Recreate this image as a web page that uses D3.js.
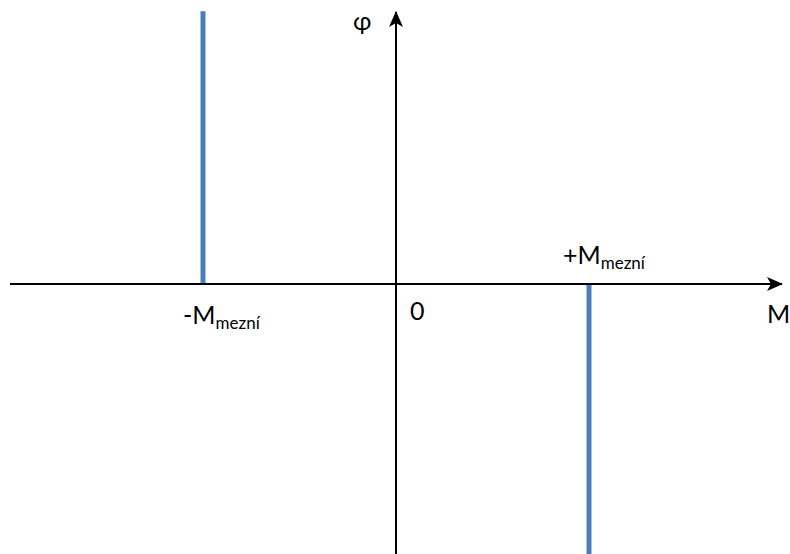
<!DOCTYPE html>
<html>
<head>
<meta charset="utf-8">
<script src="https://cdn.jsdelivr.net/npm/d3@7"></script>
<style>
  html, body { margin: 0; padding: 0; background: #fff; }
  svg { display: block; }
  text { font-family: Lato, "Open Sans", sans-serif; fill: #000; }
</style>
</head>
<body>
<svg id="chart" width="790" height="554"></svg>
<script>
// Moment axis range and the limit moments (±M mezní)
const momentDomain = [-2, 2];
const limitMoments = [-1, 1];
// Rotation range along the φ axis
const phiDomain = [-1, 1];
// Each limit branch: moment and the φ interval it covers
const branchMoment = [-1, 1];
const branchPhiFrom = [0, 0];
const branchPhiTo = [1.01, -1.0];
// Labels
const limitLabelMain = ["-M", "+M"];
const limitLabelSub = ["mezní", "mezní"];
const axisLabelX = "M";
const axisLabelY = "φ";
const originLabel = "0";

const W = 790, H = 554;
const svg = d3.select("#chart");

const x = d3.scaleLinear().domain(momentDomain).range([10, 782]);
const y = d3.scaleLinear().domain(phiDomain).range([554, 14]);

const x0 = x(0), y0 = y(0);

// Arrow heads
const defs = svg.append("defs");
defs.append("marker")
  .attr("id", "arrow")
  .attr("viewBox", "0 0 16 14")
  .attr("refX", 15).attr("refY", 7)
  .attr("markerWidth", 16).attr("markerHeight", 14)
  .attr("markerUnits", "userSpaceOnUse")
  .attr("orient", "auto")
  .append("path")
  .attr("d", "M0,0 L16,7 L0,14 L4,7 Z")
  .attr("fill", "#000");

// Limit branches (blue)
const branches = branchMoment.map((m, i) => ({ m, from: branchPhiFrom[i], to: branchPhiTo[i] }));
svg.append("g").selectAll("line").data(branches).join("line")
  .attr("x1", d => x(d.m)).attr("x2", d => x(d.m))
  .attr("y1", d => y(d.from)).attr("y2", d => y(d.to))
  .attr("stroke", "#4a7ebb")
  .attr("stroke-width", 5);

// Horizontal M axis
svg.append("line")
  .attr("x1", x(momentDomain[0])).attr("x2", x(momentDomain[1]))
  .attr("y1", y0).attr("y2", y0)
  .attr("stroke", "#000").attr("stroke-width", 2)
  .attr("marker-end", "url(#arrow)");

// Vertical φ axis
svg.append("line")
  .attr("x1", x0).attr("x2", x0)
  .attr("y1", y(phiDomain[0])).attr("y2", 12)
  .attr("stroke", "#000").attr("stroke-width", 2)
  .attr("marker-end", "url(#arrow)");

// Axis labels
svg.append("text")
  .attr("x", x(momentDomain[1]) - 15).attr("y", 323)
  .attr("font-size", 25)
  .text(axisLabelX);

svg.append("text")
  .attr("x", x0 - 43).attr("y", 30)
  .attr("font-size", 25)
  .text(axisLabelY);

svg.append("text")
  .attr("x", x0 + 14).attr("y", 320)
  .attr("font-size", 25)
  .text(originLabel);

// Limit moment labels
const labelOffsetX = [-20, -26];
const labelBaseline = [324, 264];
limitMoments.forEach((m, i) => {
  const t = svg.append("text")
    .attr("x", x(m) + labelOffsetX[i])
    .attr("y", labelBaseline[i])
    .attr("font-size", 25);
  t.append("tspan").text(limitLabelMain[i]);
  t.append("tspan").attr("font-size", 17).attr("dy", 5).text(limitLabelSub[i]);
});
</script>
</body>
</html>
